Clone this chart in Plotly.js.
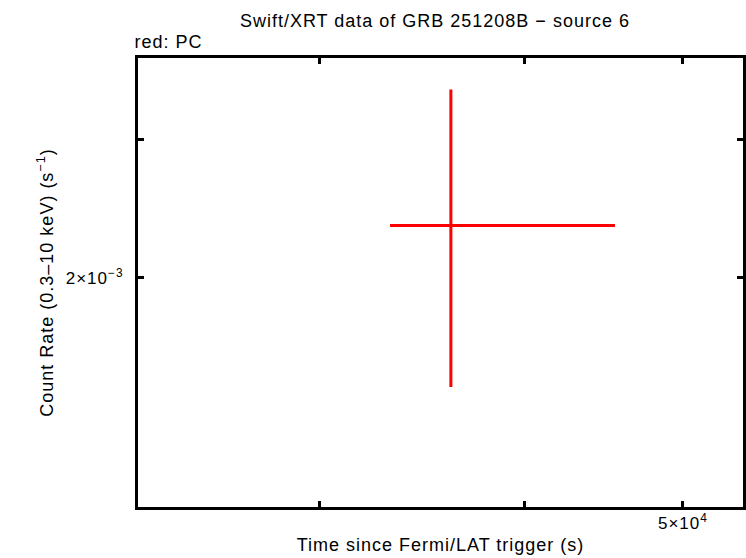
<!DOCTYPE html>
<html>
<head>
<meta charset="utf-8">
<script src="https://cdn.plot.ly/plotly-3.0.1.min.js"></script>
<style>
html,body{margin:0;padding:0;background:#fff;}
#chart{width:746px;height:558px;}
#chart svg text{letter-spacing:1px;}
</style>
</head>
<body>
<div id="chart"></div>
<script>
// Data
const timeSec = [36070];
const timeErrMinus = [2960];
const timeErrPlus = [9370];
const countRate = [2.333e-3];
const rateErrMinus = [0.881e-3];
const rateErrPlus = [1.147e-3];

const xTickVals = [3e4, 4e4, 5e4];
const xTickText = ['', '', '5×10<sup>4</sup>'];
const yTickVals = [2e-3, 3e-3];
const yTickText = ['2×10<sup>−3</sup>', ''];

const FONT = 'Liberation Sans, Arial, Helvetica, sans-serif';

const trace = {
  x: timeSec,
  y: countRate,
  type: 'scatter',
  mode: 'markers',
  marker: {size: 1, color: 'rgba(255,0,0,0)'},
  error_x: {type: 'data', symmetric: false, array: timeErrPlus, arrayminus: timeErrMinus, color: '#ff0000', thickness: 3, width: 0},
  error_y: {type: 'data', symmetric: false, array: rateErrPlus, arrayminus: rateErrMinus, color: '#ff0000', thickness: 3, width: 0},
  hoverinfo: 'skip',
  showlegend: false
};

const axisCommon = {
  type: 'log',
  showgrid: false,
  zeroline: false,
  showline: true,
  linecolor: '#000',
  linewidth: 3,
  mirror: 'allticks',
  ticks: 'inside',
  ticklen: 6,
  tickwidth: 3,
  tickcolor: '#000',
  tickfont: {family: FONT, size: 17, color: '#000'}
};

const layout = {
  width: 746,
  height: 558,
  paper_bgcolor: '#fff',
  plot_bgcolor: '#fff',
  margin: {l: 138, r: 3, t: 58, b: 51},
  title: {text: 'Swift/XRT data of GRB 251208B − source 6', font: {family: FONT, size: 18, color: '#000'}, x: 0.583, xanchor: 'center', y: 0.963, yanchor: 'middle'},
  xaxis: Object.assign({}, axisCommon, {
    range: [4.3659, 4.7357],
    tickvals: xTickVals, ticktext: xTickText,
    ticklabelstandoff: -1,
    title: {text: 'Time since Fermi/LAT trigger (s)', font: {family: FONT, size: 18, color: '#000'}, standoff: 6}
  }),
  yaxis: Object.assign({}, axisCommon, {
    range: [-2.9912, -2.4183],
    tickvals: yTickVals, ticktext: yTickText,
    ticklabelstandoff: 8,
    title: {text: 'Count Rate (0.3–10 keV) (s<sup>−1</sup>)', font: {family: FONT, size: 18, color: '#000'}, standoff: 14}
  }),
  annotations: [{
    text: 'red: PC', xref: 'paper', yref: 'paper', x: 0, y: 1, xanchor: 'left', yanchor: 'bottom', yshift: 4, xshift: -2,
    showarrow: false, font: {family: FONT, size: 18, color: '#000'}
  }]
};

Plotly.newPlot('chart', [trace], layout, {displayModeBar: false, staticPlot: true});
</script>
</body>
</html>
